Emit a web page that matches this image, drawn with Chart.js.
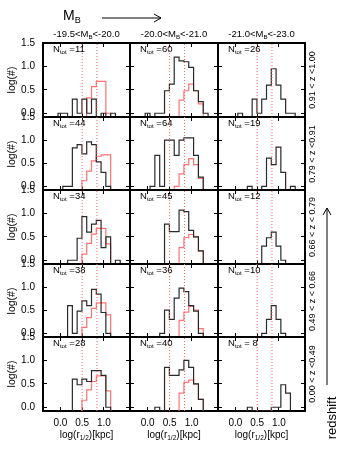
<!DOCTYPE html>
<html>
<head>
<meta charset="utf-8">
<script src="https://cdn.jsdelivr.net/npm/chart.js@4.4.1/dist/chart.umd.min.js"></script>
<style>
  body { margin: 0; background: #fff; }
  #fig { position: relative; width: 344px; height: 456px; overflow: hidden;
         font-family: "Liberation Sans", Arial, sans-serif; color: #000; }
  #fig canvas { position: absolute; }
  .t { position: absolute; white-space: nowrap; line-height: 1; }
  .rot { transform: translate(-50%, -50%) rotate(-90deg); }
  .ctr { transform: translate(-50%, -50%); }
  .sub { font-size: 65%; position: relative; top: 0.3em; }
</style>
</head>
<body>
<div id="fig">
  <svg width="344" height="456" style="position:absolute;left:0;top:0">
    <line x1="102" y1="18" x2="161" y2="18" stroke="#000" stroke-width="1"/>
    <polyline points="154,14 161,18 154,22" fill="none" stroke="#000" stroke-width="1"/>
    <line x1="327" y1="385" x2="327" y2="208" stroke="#000" stroke-width="1"/>
    <polyline points="323,215 327,208 331,215" fill="none" stroke="#000" stroke-width="1"/>
  </svg>
</div>
<script>
// histogram bins in log(r1/2)[kpc]
const binCenters = [-0.11, 0.00, 0.11, 0.22, 0.33, 0.44, 0.55, 0.66, 0.77, 0.88, 0.99, 1.10, 1.21, 1.32];
const binWidth = 0.11;
const xTicks = [0.0, 0.5, 1.0];
const yTicks = [0.0, 0.5, 1.0, 1.5];
const refLines = [0.5, 0.84];   // dotted red markers
const magBins = ['-19.5&lt;M<span class="sub">B</span>&lt;-20.0', '-20.0&lt;M<span class="sub">B</span>&lt;-21.0', '-21.0&lt;M<span class="sub">B</span>&lt;-23.0'];
const zBins = ['0.91 &lt; z &lt;1.00', '0.79 &lt; z &lt;0.91', '0.66 &lt; z &lt; 0.79', '0.49 &lt; z &lt; 0.66', '0.00 &lt; z &lt;0.49'];
const nTot = [[11, 60, 26], [44, 64, 19], [34, 45, 12], [38, 36, 10], [28, 40, 8]];

const _ = null;  // empty bin
// log(#) of the sample (black), one list per M_B column
const sampleZ1 = [
  [_, 0, 0, _, .30, 0, .30, 0, .30, _, 0, _, 0, _],
  [_, 0, _, 0, 0, .48, .62, 1.20, 1.12, 1.10, .98, .48, .25, 0],
  [_, _, 0, _, _, .30, 0, .30, .60, .95, .60, .30, 0, 0]
];
const sampleZ2 = [
  [_, _, 0, 0, .83, .90, .70, .96, .90, .53, .30, 0, _, _],
  [_, _, 0, .67, 0, 1.0, 1.0, .67, 1.0, 1.05, 1.05, .67, .20, _],
  [_, _, _, _, 0, _, _, 0, .61, .47, .85, .30, _, 0]
];
const sampleZ3 = [
  [_, _, _, 0, 0, .47, .93, .60, .77, .85, .27, .50, _, 0],
  [_, _, _, _, _, .77, .61, .61, 1.07, 1.04, .64, .50, .20, _],
  [_, _, _, _, _, _, _, .30, .48, .60, .30, 0, _, _]
];
const sampleZ4 = [
  [_, _, _, .60, 0, .48, .70, .60, .95, .85, .45, 0, _, _],
  [_, _, _, _, 0, .50, .30, .76, .98, .90, .60, .48, 0, _],
  [_, _, _, _, _, _, _, 0, .30, .60, .30, 0, _, _]
];
const sampleZ5 = [
  [_, _, _, _, .60, .48, .60, .55, .78, .78, .68, 0, _, _],
  [_, _, _, 0, _, .85, .68, .68, .80, 1.0, .85, .50, .17, _],
  [_, _, _, _, 0, _, _, _, _, 0, 0, .48, .30, _]
];
// comparison distribution (red), only for the two fainter columns
const localZ1 = [
  [_, _, _, _, _, _, _, .33, .57, .68, .68, 0, _, _],
  [_, _, _, _, _, _, _, _, .28, .48, .62, .48, .20, _]
];
const localZ2 = [
  [_, _, _, _, _, _, .12, .33, .55, .65, .68, .68, _, _],
  [_, _, _, _, _, _, _, 0, .27, .47, .60, .47, .17, _]
];
const localZ3 = [
  [_, _, _, _, _, _, .13, .36, .56, .68, .68, .35, _, _],
  [_, _, _, _, _, _, _, _, .27, .48, .55, .50, .20, _]
];
const localZ4 = [
  [_, _, _, _, _, _, .13, .34, .54, .66, .66, .40, _, _],
  [_, _, _, _, _, _, _, _, .28, .46, .58, .50, .10, _]
];
const localZ5 = [
  [_, _, _, _, _, _, .15, .37, .55, .67, .67, .35, _, _],
  [_, _, _, _, _, _, _, _, .30, .53, .58, .50, .17, _]
];
const sampleRows = [sampleZ1, sampleZ2, sampleZ3, sampleZ4, sampleZ5];
const localRows = [localZ1, localZ2, localZ3, localZ4, localZ5];

const X_MIN = -0.4, X_MAX = 1.6, Y_MIN = -0.08, Y_MAX = 1.5;
const colLeft = [43, 130, 218, 305];
const rowTop = [43, 117, 190, 264, 337, 411];
const fig = document.getElementById('fig');
const tickFont = { family: '"Liberation Sans", Arial, sans-serif', size: 10 };

// step outline of a histogram: left edges, closing at the right edge
function outline(vals) {
  const used = vals.map((v, i) => v === null ? -1 : i).filter(i => i >= 0);
  const first = used[0], last = used[used.length - 1];
  const pts = [{ x: binCenters[first] - binWidth / 2, y: Y_MIN }];
  for (let i = first; i <= last; i++) {
    pts.push({ x: binCenters[i] - binWidth / 2, y: vals[i] === null ? Y_MIN : vals[i] });
  }
  pts.push({ x: binCenters[last] + binWidth / 2, y: Y_MIN });
  return pts;
}

function addText(html, x, y, size, cls) {
  const d = document.createElement('div');
  d.className = 't ' + cls;
  d.style.left = x + 'px';
  d.style.top = y + 'px';
  d.style.fontSize = size + 'px';
  d.innerHTML = html;
  fig.appendChild(d);
}

function axis(pos, size, showLabels, isX) {
  return {
    type: 'linear', position: pos,
    min: isX ? X_MIN : Y_MIN, max: isX ? X_MAX : Y_MAX,
    afterFit: s => {
      if (isX) s.height = size; else s.width = size;
      // keep the plot box fixed, labels may hang over the edges
      s.paddingTop = s.paddingBottom = s.paddingLeft = s.paddingRight = 0;
    },
    afterBuildTicks: s => { s.ticks = (isX ? xTicks : yTicks).map(v => ({ value: v })); },
    grid: { drawOnChartArea: false, drawTicks: true, tickLength: -4, color: '#000', lineWidth: 1 },
    border: { display: true, color: '#000', width: 2 },
    ticks: { display: showLabels, padding: isX ? 10 : 12, color: '#000', font: tickFont,
             autoSkip: false, maxRotation: 0, callback: v => v.toFixed(1) }
  };
}

function panel(r, c) {
  const left = colLeft[c], top = rowTop[r];
  const w = colLeft[c + 1] - left, h = rowTop[r + 1] - top;
  const padL = c === 0 ? 40 : 6, padR = 6, padT = 8, padB = r === 4 ? 22 : 8;
  const cv = document.createElement('canvas');
  cv.width = w + padL + padR;
  cv.height = h + padT + padB;
  cv.style.left = (left - padL) + 'px';
  cv.style.top = (top - padT) + 'px';
  cv.style.width = cv.width + 'px';
  cv.style.height = cv.height + 'px';
  fig.appendChild(cv);

  const datasets = refLines.map(x0 => ({
    data: [{ x: x0, y: Y_MIN }, { x: x0, y: Y_MAX }],
    borderColor: '#ff6464', borderWidth: 1, borderDash: [1, 2], pointRadius: 0
  }));
  datasets.push({
    data: outline(sampleRows[r][c]), stepped: 'before',
    borderColor: '#2a2a2a', borderWidth: 1.2, pointRadius: 0
  });
  if (c < 2) {
    datasets.push({
      data: outline(localRows[r][c]), stepped: 'before',
      borderColor: '#ff7373', borderWidth: 1.2, pointRadius: 0
    });
  }

  new Chart(cv, {
    type: 'line',
    data: { datasets },
    options: {
      responsive: false, animation: false, devicePixelRatio: 1,
      layout: { padding: 0 },
      plugins: { legend: { display: false }, tooltip: { enabled: false } },
      scales: {
        x: axis('bottom', padB, r === 4, true),
        x2: axis('top', padT, false, true),
        y: axis('left', padL, c === 0, false),
        y2: axis('right', padR, false, false)
      }
    }
  });

  addText('N<span class="sub">tot</span> =' + (nTot[r][c] < 10 ? ' ' : '') + nTot[r][c],
          left + 10, top + 1, 9.5, '');
}

for (let r = 0; r < 5; r++) {
  for (let c = 0; c < 3; c++) panel(r, c);
  const yc = (rowTop[r] + rowTop[r + 1]) / 2;
  addText('log(#)', 11, yc, 10.5, 'rot');
  addText(zBins[r], 312, yc, 9, 'rot');
}
for (let c = 0; c < 3; c++) {
  const xc = (colLeft[c] + colLeft[c + 1]) / 2;
  addText(magBins[c], xc, 34, 9.5, 'ctr');
  addText('log(r<span class="sub">1/2</span>)[kpc]', xc, 435, 10, 'ctr');
}
addText('M<span class="sub">B</span>', 63, 8, 14, '');
addText('redshift', 331, 418, 13, 'rot');
</script>
</body>
</html>
